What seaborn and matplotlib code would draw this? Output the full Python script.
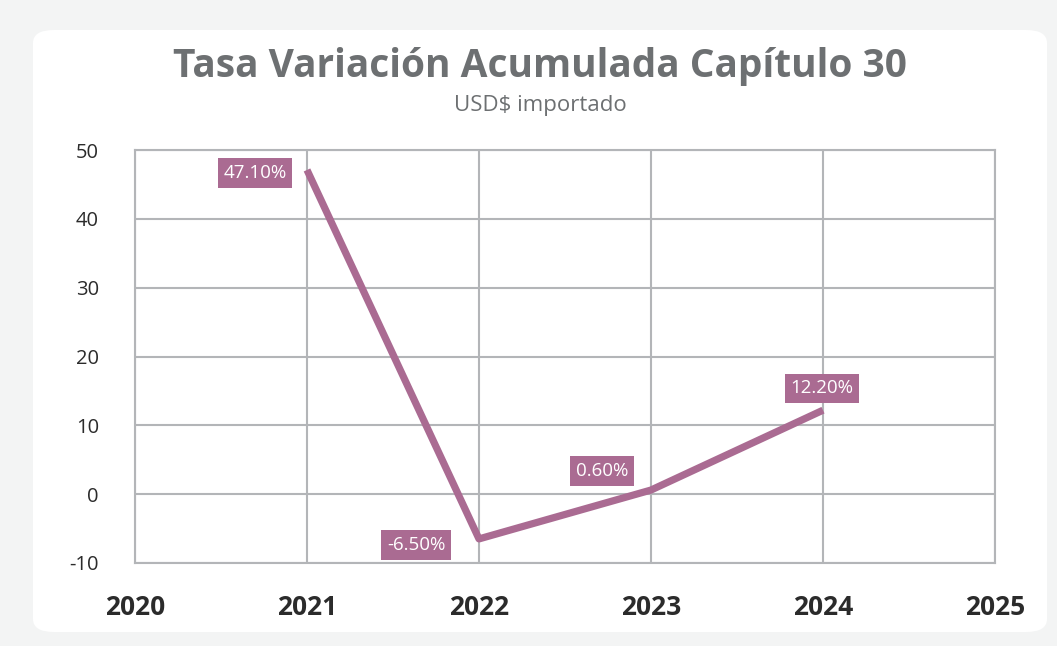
import matplotlib
matplotlib.use("Agg")
import matplotlib.pyplot as plt
from matplotlib.patches import FancyBboxPatch
import seaborn as sns
import pandas as pd

# datos
anios = [2021, 2022, 2023, 2024]
tasa = [47.1, -6.5, 0.6, 12.2]
etiquetas = ["47.10%", "-6.50%", "0.60%", "12.20%"]
x_ticks = [2020, 2021, 2022, 2023, 2024, 2025]
y_ticks = [-10, 0, 10, 20, 30, 40, 50]

df = pd.DataFrame({"anio": anios, "tasa": tasa})

sns.set_theme(style="white")
plt.rcParams['font.family'] = ['Open Sans', 'DejaVu Sans']

color_linea = "#aa6b92"
color_grid = "#b3b5b8"

fig = plt.figure(figsize=(10.57, 6.46), dpi=100)
fig.patch.set_facecolor("#f3f4f4")
# tarjeta blanca
card = FancyBboxPatch((33/1057, 14/646), 1014/1057, 602/646,
                      boxstyle="round,pad=0,rounding_size=0.02",
                      transform=fig.transFigure, facecolor="white",
                      edgecolor="none", zorder=-10)
fig.patches.append(card)

ax = fig.add_axes([135/1057, 1-563/646, 860/1057, 413/646])
ax.set_facecolor("white")
sns.lineplot(data=df, x="anio", y="tasa", color=color_linea, linewidth=5.2,
             ax=ax, solid_capstyle="butt")

ax.set_xlim(2020, 2025)
ax.set_ylim(-10, 50)
ax.set_xticks(x_ticks)
ax.set_yticks(y_ticks)
ax.set_xticklabels([str(v) for v in x_ticks], fontsize=19, fontweight="bold", color="#2b2b2b")
ax.set_yticklabels([str(v) for v in y_ticks], fontsize=14.5, color="#2b2b2b")
ax.tick_params(axis="x", length=0, pad=22)
ax.tick_params(axis="y", length=0, pad=26)
ax.grid(True, color=color_grid, linewidth=1.5)
ax.set_axisbelow(True)
for s in ax.spines.values():
    s.set_color(color_grid)
    s.set_linewidth(1.5)
ax.set_xlabel("")
ax.set_ylabel("")

# etiquetas de datos
offsets = [(-52, -3), (-63, -6), (-49, 19), (-1, 22)]
for xv, yv, lab, (dx, dy) in zip(anios, tasa, etiquetas, offsets):
    ax.annotate(lab, (xv, yv), xytext=(dx, dy), textcoords="offset pixels",
                ha="center", va="center", fontsize=13.5, color="white",
                bbox=dict(boxstyle="square,pad=0.3", facecolor=color_linea,
                          edgecolor="none"))

fig.text(540/1057, 1-67/646, "Tasa Variación Acumulada Capítulo 30", ha="center",
         va="center", fontsize=28, fontweight="bold", color="#6d7072")
fig.text(540/1057, 1-106/646, "USD$ importado", ha="center", va="center",
         fontsize=16, color="#6d7072")

fig.savefig("out.png", dpi=100, facecolor=fig.get_facecolor())
